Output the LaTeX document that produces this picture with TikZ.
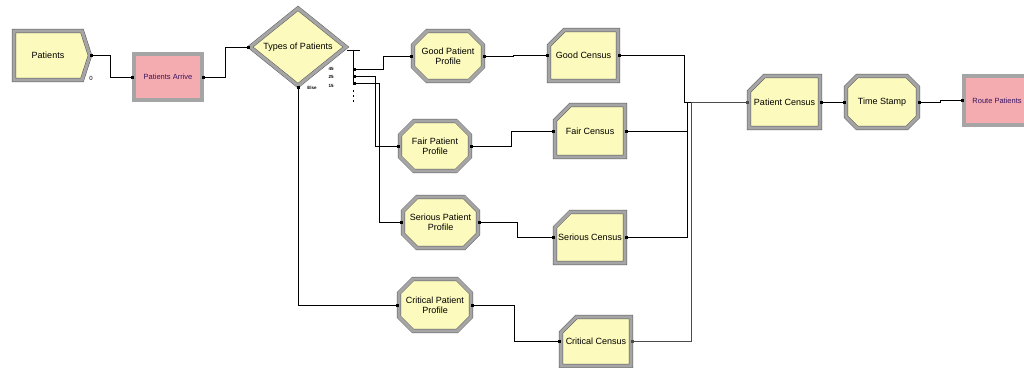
\documentclass[tikz,border=0pt]{standalone}
\usepackage{fontspec}
\setmainfont{Liberation Sans}
\usetikzlibrary{shapes.geometric,shapes.misc,shapes.symbols,arrows.meta}
\definecolor{yel}{RGB}{252,250,188}
\definecolor{pnk}{RGB}{244,172,176}
\definecolor{bev}{RGB}{165,165,165}
\definecolor{bevd}{RGB}{90,90,90}
\definecolor{purp}{RGB}{55,20,95}
\tikzset{
 mod/.style={draw=bevd, line width=0.5pt, double=bev, double distance=3.2pt, inner sep=0pt,
   font=\fontsize{9}{10}\selectfont, align=center},
 create/.style={mod, signal, signal to=east, signal pointer angle=144, fill=yel},
 procbox/.style={mod, rectangle, fill=pnk, text=purp, font=\fontsize{7.5}{8}\selectfont},
 assignbox/.style={mod, chamfered rectangle, chamfered rectangle xsep=7pt, chamfered rectangle ysep=7pt, fill=yel},
 recordbox/.style={mod, chamfered rectangle, chamfered rectangle corners=north west,
   chamfered rectangle xsep=11pt, chamfered rectangle ysep=12pt, fill=yel},
 decidebox/.style={mod, diamond, fill=yel},
 conn/.style={draw=black, line width=0.7pt, {Square[length=2.4pt,width=2.4pt]}-{Square[length=2.4pt,width=2.4pt]}},
 plain/.style={draw=black, line width=0.7pt},
 tinylbl/.style={font=\fontsize{4.5}{5}\selectfont\bfseries, inner sep=0pt},
}
\begin{document}
\begin{tikzpicture}[x=1pt,y=-1pt]
\fill[white] (0,0) rectangle (1024,367);
\useasboundingbox (0,0) rectangle (1024,367);
\clip (0,0) rectangle (1024,367);

% modules
\node[create, minimum width=76pt, minimum height=49pt] (pat) at (48,55.5) {Patients};
\node[procbox, minimum width=68pt, minimum height=46pt] (arr) at (168,77) {Patients Arrive};
\node[decidebox, minimum width=96pt, minimum height=76pt] (typ) at (298,47) {Types of Patients};

\node[assignbox, minimum width=70pt, minimum height=50pt] (gpp) at (448,56) {Good Patient\\Profile};
\node[assignbox, minimum width=70pt, minimum height=50pt] (fpp) at (435,146) {Fair Patient\\Profile};
\node[assignbox, minimum width=69pt, minimum height=51pt] (spp) at (440.5,222.5) {Serious Patient\\Profile};
\node[assignbox, minimum width=72pt, minimum height=52pt] (cpp) at (435,305) {Critical Patient\\Profile};

\node[recordbox, minimum width=69pt, minimum height=51pt] (gc) at (583.5,55.5) {Good Census};
\node[recordbox, minimum width=70pt, minimum height=52pt] (fc) at (590,131) {Fair Census};
\node[recordbox, minimum width=70pt, minimum height=51pt] (sc) at (590,237.5) {Serious Census};
\node[recordbox, minimum width=70pt, minimum height=49pt] (cc) at (596,341.5) {Critical Census};

\node[recordbox, minimum width=71pt, minimum height=52pt] (pc) at (784.5,102) {Patient Census};
\node[assignbox, minimum width=72pt, minimum height=52pt] (ts) at (882,102) {Time Stamp};
\node[procbox, minimum width=66pt, minimum height=49pt] (rp) at (997,100.5) {Route Patients};

% small labels
\node[tinylbl, font=\fontsize{6}{6}\selectfont] (zero) at (91,78) {0};
\node[tinylbl] (p45) at (331,69) {45};
\node[tinylbl] (p25) at (331,77) {25};
\node[tinylbl] (p15) at (331,86) {15};
\node[tinylbl] (pelse) at (312,88) {Else};

% decide exit bar
\coordinate (bartop) at (353,50);
\coordinate (barbot) at (353,84);
\coordinate (b1) at (353,69);
\coordinate (b2) at (353,76);
\coordinate (b3) at (353,83);
\draw[plain] (347,50) -- (360,50);
\draw[plain] (bartop) -- (barbot);
\foreach \yy in {90,95,100}{\fill (352.5,\yy) rectangle (353.7,\yy+1.5);}

% connectors
\draw[conn] (pat.east) -- ++(20,0) |- (arr.west);
\draw[conn] (arr.east) -- ++(23,0) |- (typ.west);
\draw[conn] (b1) -- ++(30,0) |- (gpp.west);
\draw[conn] (b2) -- ++(22,0) |- (fpp.west);
\draw[conn] (b3) -- ++(26,0) |- (spp.west);
\draw[conn] (typ.south) |- (cpp.west);

\draw[conn] (gpp.east) -- ++(30,0) |- (gc.west);
\draw[conn] (fpp.east) -- ++(41,0) |- (fc.west);
\draw[conn] (spp.east) -- ++(39,0) |- (sc.west);
\draw[conn] (cpp.east) -- ++(43,0) |- (cc.west);

\draw[conn] (gc.east) -- ++(66,0) |- (pc.west);
\draw[conn] (fc.east) -- ++(62,0) |- (pc.west);
\draw[conn] (sc.east) -- ++(62,0) |- (pc.west);
\draw[conn, draw=black!70] (cc.east) -- ++(60,0) |- (pc.west);

\draw[conn] (pc.east) -- (ts.west);
\draw[conn] (ts.east) -- ++(22,0) |- (rp.west);
\end{tikzpicture}
\end{document}
